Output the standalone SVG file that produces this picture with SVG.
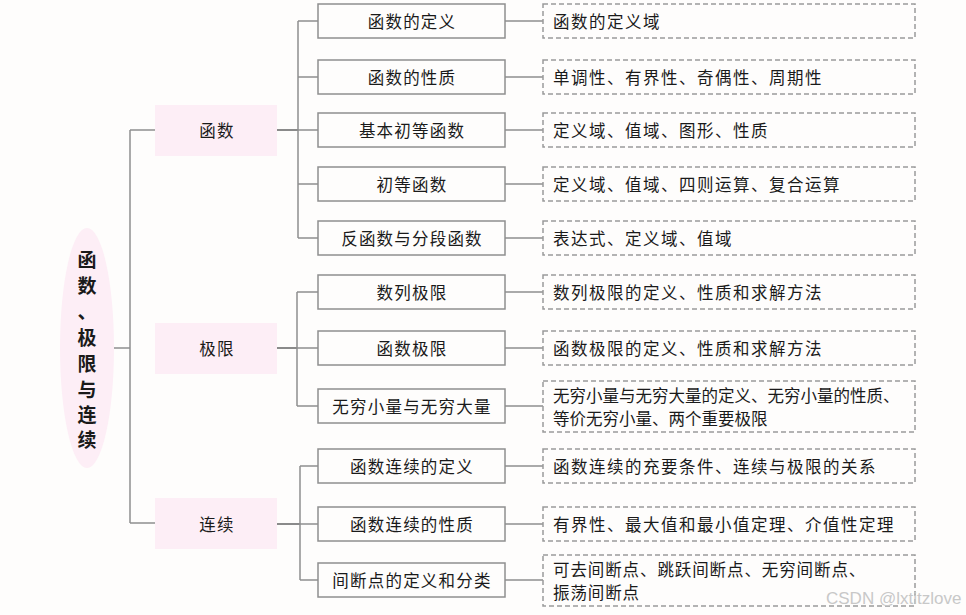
<svg xmlns="http://www.w3.org/2000/svg" width="966" height="615" viewBox="0 0 966 615">
<defs>
<style>
.bg{fill:#fefdfc}
.root{fill:#fdeef6}
.l1{fill:#fdeef6}
.l2{fill:#fefdfc;stroke:#8f8f8f;stroke-width:1.5}
.l3{fill:#fefdfc;stroke:#9a9a9a;stroke-width:1.5;stroke-dasharray:5 3}
.c{fill:none;stroke:#8f8f8f;stroke-width:1.5}
.ct{fill:none;stroke:#8a8a8a;stroke-width:2.2}
text{font-family:"Noto Sans CJK SC","Noto Sans",sans-serif;fill:#1a1a1a;font-size:16.5px}
.m{text-anchor:middle;dominant-baseline:central;letter-spacing:1.2px}
.l{dominant-baseline:central;letter-spacing:1.5px}
.l.s{letter-spacing:0px}
.l.s2{letter-spacing:0.9px}
.rt{font-size:19px;font-weight:bold;text-anchor:middle;dominant-baseline:central}
.wm{fill:#c8c8c8;font-family:"Liberation Sans",Arial,sans-serif;font-size:17px}
</style>
</defs>
<rect class="bg" x="0" y="0" width="966" height="615"/>
<g id="connectors">
<path class="c" d="M113 348H130M130 130V523M130 130H155M130 523H155"/>
<path class="ct" d="M277 130H298M277 348H297M277 524H300"/>
<path class="c" d="M298 21V238M298 21H318M298 77H318M298 130H318M298 184H318M298 238H318"/>
<path class="c" d="M297 292V406M297 292H318M297 348H318M297 406H318"/>
<path class="c" d="M300 466V580M300 466H318M300 524H318M300 580H318"/>
<path class="c" d="M505 21H543M505 77H543M505 130H543M505 184H543M505 238H543M505 292H543M505 348H543M505 406H543M505 466H543M505 524H543M505 580H543"/>
</g>
<g id="root">
<ellipse class="root" cx="87" cy="348" rx="27" ry="120"/>
<text class="rt" x="87" y="258">函</text>
<text class="rt" x="87" y="284">数</text>
<text class="rt" x="87" y="310">、</text>
<text class="rt" x="87" y="336">极</text>
<text class="rt" x="87" y="362">限</text>
<text class="rt" x="87" y="388">与</text>
<text class="rt" x="87" y="413">连</text>
<text class="rt" x="87" y="438">续</text>
</g>
<g id="n-hanshu"><rect class="l1" x="155" y="105" width="122" height="51"/><text class="m" x="217" y="130">函数</text></g>
<g id="n-jixian"><rect class="l1" x="155" y="323" width="122" height="51"/><text class="m" x="217" y="348">极限</text></g>
<g id="n-lianxu"><rect class="l1" x="155" y="498" width="122" height="51"/><text class="m" x="217" y="524">连续</text></g>

<g id="a1"><rect class="l2" x="318" y="4" width="187" height="34"/><text class="m" x="412" y="21">函数的定义</text></g>
<g id="a2"><rect class="l2" x="318" y="60" width="187" height="34"/><text class="m" x="412" y="77">函数的性质</text></g>
<g id="a3"><rect class="l2" x="318" y="113" width="187" height="34"/><text class="m" x="412" y="130">基本初等函数</text></g>
<g id="a4"><rect class="l2" x="318" y="167" width="187" height="34"/><text class="m" x="412" y="184">初等函数</text></g>
<g id="a5"><rect class="l2" x="318" y="221" width="187" height="34"/><text class="m" x="412" y="238">反函数与分段函数</text></g>
<g id="b1"><rect class="l2" x="318" y="275" width="187" height="34"/><text class="m" x="412" y="292">数列极限</text></g>
<g id="b2"><rect class="l2" x="318" y="331" width="187" height="34"/><text class="m" x="412" y="348">函数极限</text></g>
<g id="b3"><rect class="l2" x="318" y="389" width="187" height="34"/><text class="m" x="412" y="406">无穷小量与无穷大量</text></g>
<g id="c1"><rect class="l2" x="318" y="449" width="187" height="34"/><text class="m" x="412" y="466">函数连续的定义</text></g>
<g id="c2"><rect class="l2" x="318" y="507" width="187" height="34"/><text class="m" x="412" y="524">函数连续的性质</text></g>
<g id="c3"><rect class="l2" x="318" y="563" width="187" height="34"/><text class="m" x="412" y="580">间断点的定义和分类</text></g>

<g id="d1"><rect class="l3" x="543" y="4" width="372" height="34"/><text class="l" x="553" y="21">函数的定义域</text></g>
<g id="d2"><rect class="l3" x="543" y="60" width="372" height="34"/><text class="l" x="553" y="77">单调性、有界性、奇偶性、周期性</text></g>
<g id="d3"><rect class="l3" x="543" y="113" width="372" height="34"/><text class="l" x="553" y="130">定义域、值域、图形、性质</text></g>
<g id="d4"><rect class="l3" x="543" y="167" width="372" height="34"/><text class="l" x="553" y="184">定义域、值域、四则运算、复合运算</text></g>
<g id="d5"><rect class="l3" x="543" y="221" width="372" height="34"/><text class="l" x="553" y="238">表达式、定义域、值域</text></g>
<g id="e1"><rect class="l3" x="543" y="275" width="372" height="34"/><text class="l" x="553" y="292">数列极限的定义、性质和求解方法</text></g>
<g id="e2"><rect class="l3" x="543" y="331" width="372" height="34"/><text class="l" x="553" y="348">函数极限的定义、性质和求解方法</text></g>
<g id="e3"><rect class="l3" x="543" y="381" width="372" height="51"/><text class="l s" x="553" y="395">无穷小量与无穷大量的定义、无穷小量的性质、</text><text class="l s" x="553" y="418">等价无穷小量、两个重要极限</text></g>
<g id="f1"><rect class="l3" x="543" y="449" width="372" height="34"/><text class="l" x="553" y="466">函数连续的充要条件、连续与极限的关系</text></g>
<g id="f2"><rect class="l3" x="543" y="507" width="372" height="34"/><text class="l" x="553" y="524">有界性、最大值和最小值定理、介值性定理</text></g>
<g id="f3"><rect class="l3" x="543" y="555" width="372" height="51"/><text class="l s2" x="553" y="569">可去间断点、跳跃间断点、无穷间断点、</text><text class="l s2" x="553" y="592">振荡间断点</text></g>
<text class="wm" x="826" y="604">CSDN @lxtitzlove</text>
</svg>
